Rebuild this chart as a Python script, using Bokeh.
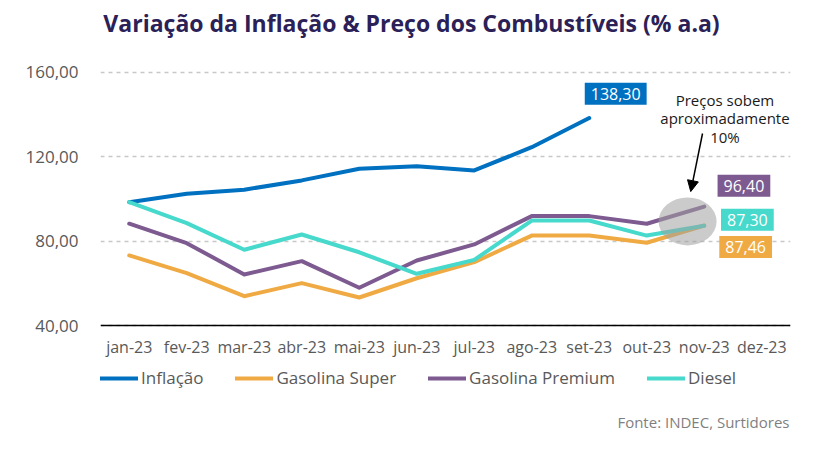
from bokeh.plotting import figure
from bokeh.models import (Range1d, FixedTicker, Legend, LegendItem, Label, Arrow, NormalHead)
from bokeh.embed import file_html
from bokeh.resources import INLINE

months = ["jan-23", "fev-23", "mar-23", "abr-23", "mai-23", "jun-23",
          "jul-23", "ago-23", "set-23", "out-23", "nov-23", "dez-23"]
inflacao = [98.5, 102.5, 104.4, 108.8, 114.3, 115.5, 113.5, 124.5, 138.3]
gasolina_super = [73.3, 64.9, 54.0, 60.2, 53.4, 62.5, 70.1, 82.7, 82.7, 79.3, 87.46]
gasolina_premium = [88.3, 79.1, 64.3, 70.6, 58.0, 70.9, 78.5, 91.9, 91.9, 88.3, 96.4]
diesel = [98.5, 88.6, 76.0, 83.2, 74.8, 64.6, 71.2, 89.8, 89.8, 82.7, 87.3]
series_names = ["Inflação", "Gasolina Super", "Gasolina Premium", "Diesel"]
ytick_values = [40, 80, 120, 160]
ytick_labels = ["40,00", "80,00", "120,00", "160,00"]
last_labels = ["138,30", "87,46", "96,40", "87,30"]

colors = ["#0070C0", "#F0AA44", "#7D5A8F", "#46D9CC"]
FONT = "Open Sans"

# frame spans the full height; 40 -> y=325 px, 160 -> y=72 px from top
p = figure(width=825, height=451, output_backend="svg", toolbar_location=None,
           x_range=Range1d(-0.5, 11.5), y_range=Range1d(-19.48, 193.93),
           min_border_left=100, min_border_right=35, min_border_top=0, min_border_bottom=0)
p.outline_line_color = None
p.background_fill_color = "white"
p.border_fill_color = "white"

# axes
p.xaxis.fixed_location = 40
p.xaxis.ticker = FixedTicker(ticks=list(range(len(months))))
p.xaxis.major_label_overrides = {i: m for i, m in enumerate(months)}
p.xaxis.axis_line_color = "#000000"
p.xaxis.axis_line_width = 1.5
p.xaxis.major_tick_line_color = None
p.xaxis.minor_tick_line_color = None
p.xaxis.major_label_text_font = FONT
p.xaxis.major_label_text_font_size = "16px"
p.xaxis.major_label_text_color = "#595959"
p.xaxis.major_label_standoff = 4

p.yaxis.ticker = FixedTicker(ticks=ytick_values)
p.yaxis.major_label_overrides = {v: l for v, l in zip(ytick_values, ytick_labels)}
p.yaxis.axis_line_color = None
p.yaxis.major_tick_line_color = None
p.yaxis.minor_tick_line_color = None
p.yaxis.major_label_text_font = FONT
p.yaxis.major_label_text_font_size = "17px"
p.yaxis.major_label_text_color = "#595959"
p.yaxis.major_label_standoff = 16

p.xgrid.grid_line_color = None
p.ygrid.grid_line_color = "#C8C8C8"
p.ygrid.grid_line_dash = "4 4"
p.ygrid.grid_line_width = 1.3

data = [inflacao, gasolina_super, gasolina_premium, diesel]
renderers = []
for vals, c in zip(data, colors):
    r = p.line(list(range(len(vals))), vals, line_color=c, line_width=4, line_cap="round", line_join="round")
    renderers.append(r)

# highlight ellipse
p.ellipse(x=[9.71], y=[89.4], width=58, height=48, width_units="screen", height_units="screen",
          fill_color="#A0A0A0", fill_alpha=0.55, line_color=None)

# arrow
p.add_layout(Arrow(x_start=9.97, y_start=131.0, x_end=9.765, y_end=103.5,
                   line_color="black", line_width=1.5,
                   end=NormalHead(size=11, fill_color="black", line_color="black")))

p.add_layout(Label(x=10.36, y=138.1, text="Preços sobem\naproximadamente\n10%",
                   text_align="center", text_baseline="middle", text_font=FONT,
                   text_font_size="15px", text_color="#1a1a1a", text_line_height=0.92))

# end value labels
label_pos = [(8.46, 149.8), (10.72, 77.3), (10.69, 106.3), (10.75, 90.2)]
for (lx, ly), txt, c in zip(label_pos, last_labels, colors):
    p.add_layout(Label(x=lx, y=ly, text=txt, text_align="center", text_baseline="middle",
                       text_font=FONT, text_font_size="16px", text_color="white",
                       background_fill_color=c, padding=(6, 5)))

# legend (inside the full-height frame, below the axis)
items = [LegendItem(label=n, renderers=[r]) for n, r in zip(series_names, renderers)]
legend = Legend(items=items, orientation="horizontal", location=(0, 62),
                glyph_width=38, glyph_height=20, label_standoff=3, spacing=32,
                padding=0, margin=0, border_line_alpha=0, background_fill_alpha=0,
                label_text_font=FONT, label_text_font_size="17px", label_text_color="#595959",
                label_height=20)
p.add_layout(legend)

# title & source
p.add_layout(Label(x=311, y=429, x_units="screen", y_units="screen",
                   text="Variação da Inflação & Preço dos Combustíveis (% a.a)",
                   text_align="center", text_baseline="middle", text_font=FONT,
                   text_font_style="bold", text_font_size="23px", text_color="#2B2157"))
p.add_layout(Label(x=689, y=30, x_units="screen", y_units="screen",
                   text="Fonte: INDEC, Surtidores", text_align="right", text_baseline="middle",
                   text_font=FONT, text_font_size="15px", text_color="#7F7F7F"))

open("out.html", "w").write(file_html(p, INLINE))
